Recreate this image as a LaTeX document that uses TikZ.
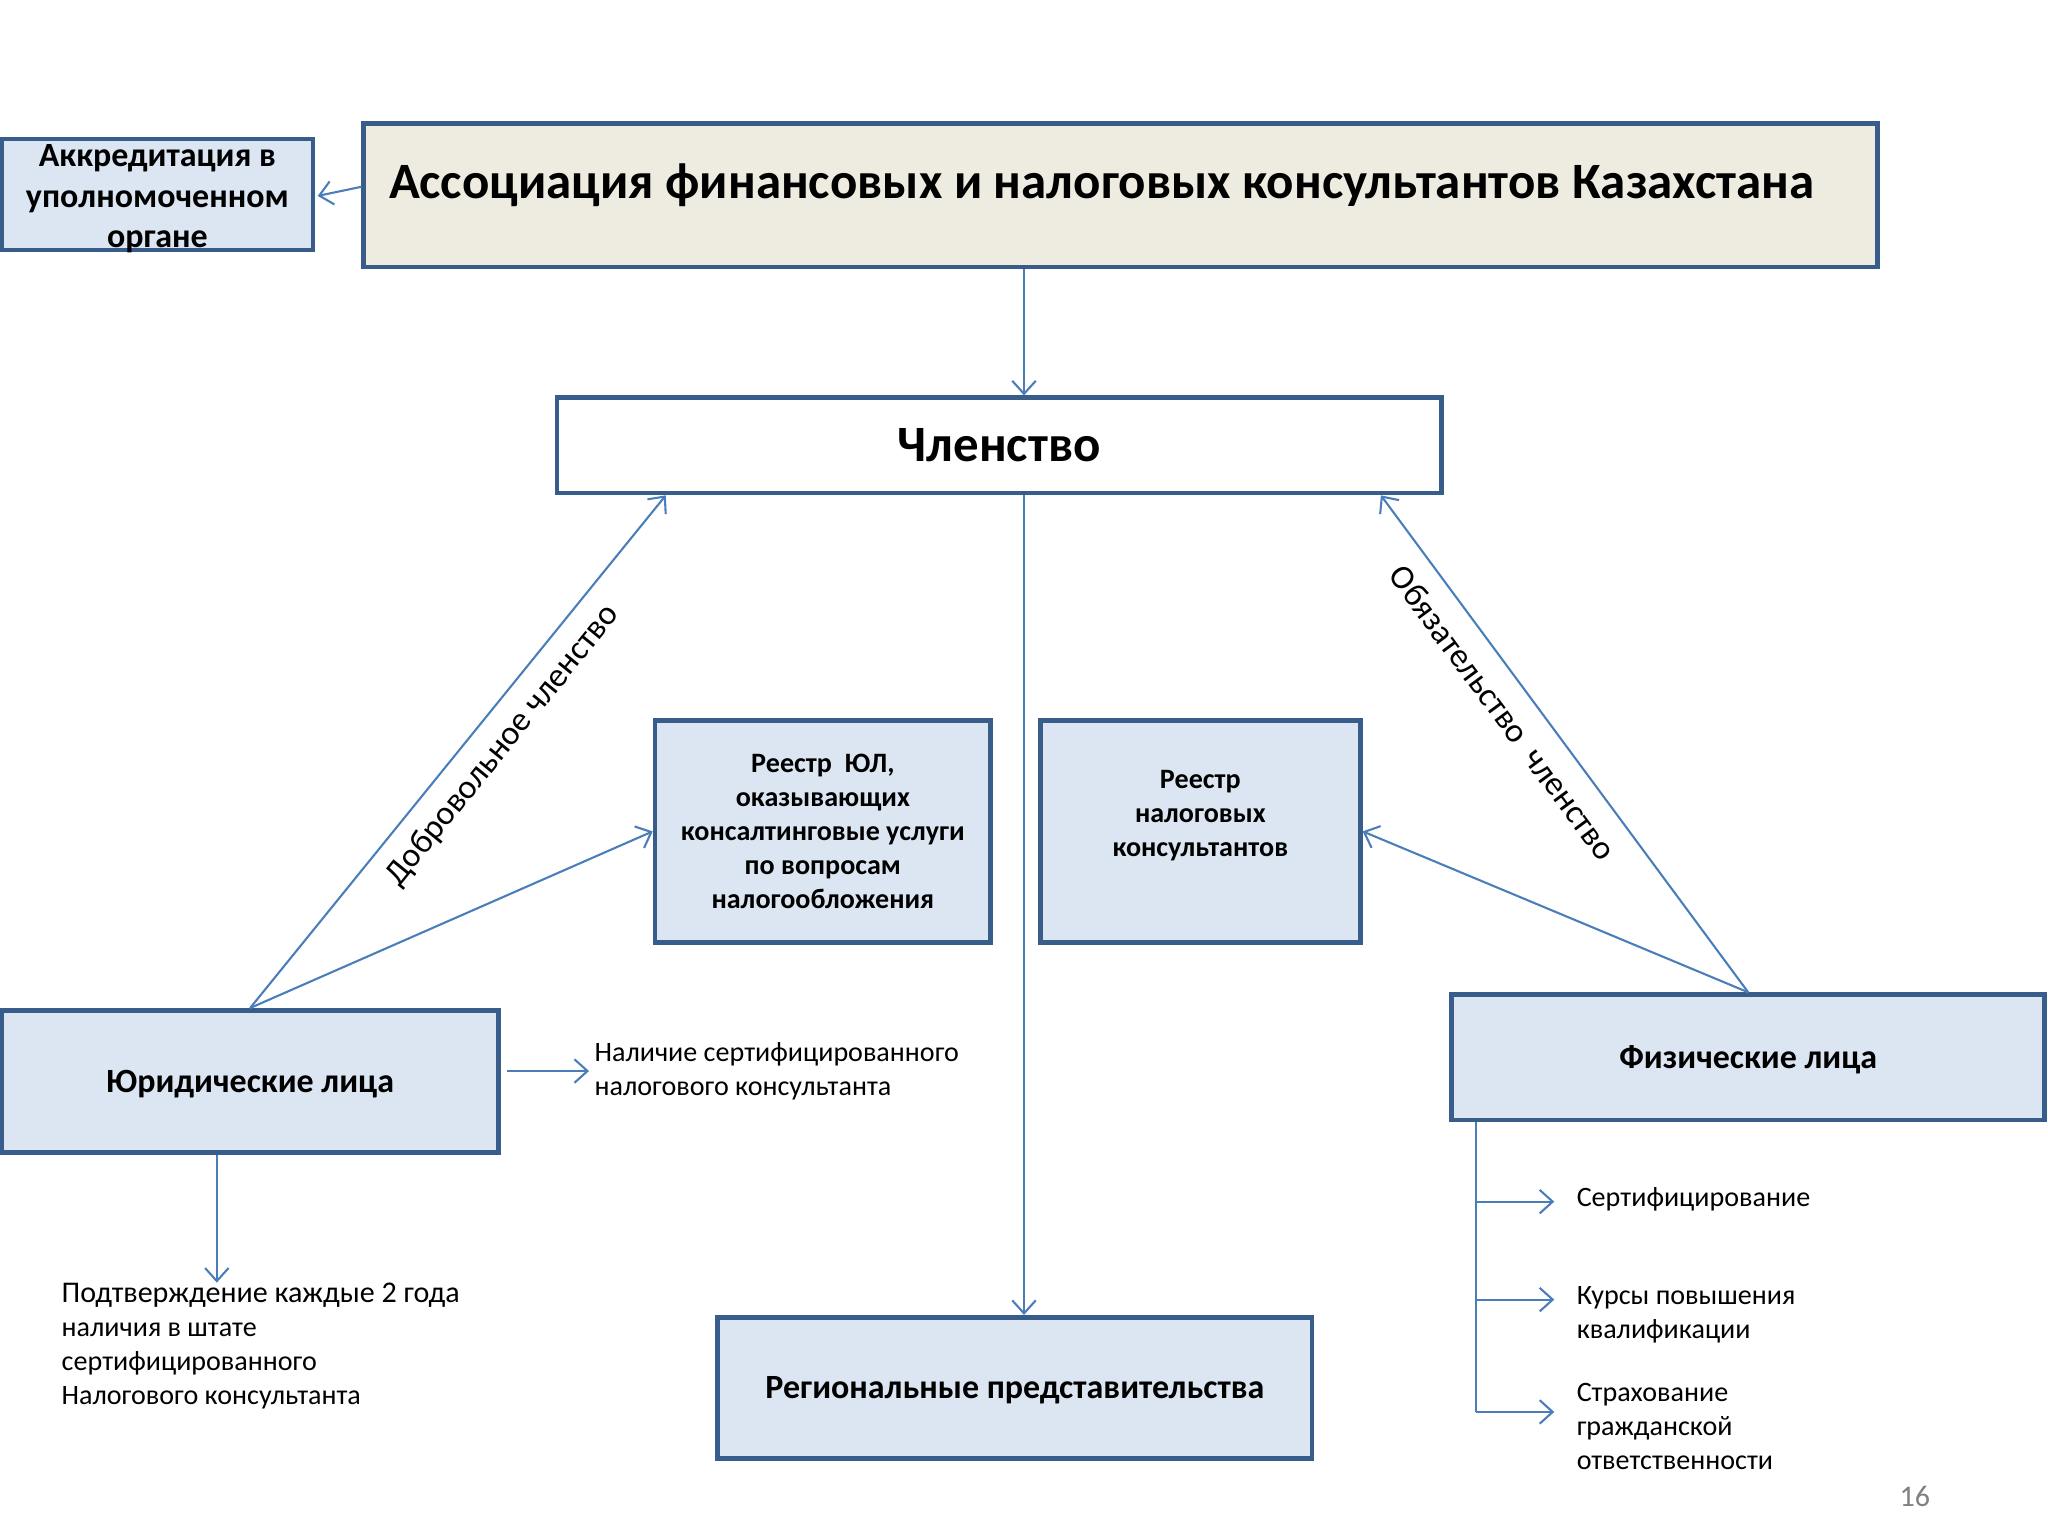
\documentclass[tikz,border=0pt]{standalone}
\usepackage{fontspec}
\setmainfont{Carlito}
\usetikzlibrary{arrows.meta}
\definecolor{boxline}{RGB}{56,93,138}
\definecolor{boxfill}{RGB}{220,230,242}
\definecolor{assocfill}{RGB}{238,236,225}
\definecolor{arrowline}{RGB}{74,126,187}

\begin{document}
\begin{tikzpicture}
  [x=1pt,y=-1pt,
   box/.style={draw=boxline, line width=3.5pt, fill=boxfill, align=center, inner sep=0pt},
   head/.style={font=\bfseries\fontsize{26}{30}\selectfont, text height=22pt, text depth=5pt},
   small/.style={font=\bfseries\fontsize{21.5}{26}\selectfont},
   note/.style={align=left, inner sep=0pt, font=\fontsize{21.5}{26}\selectfont},
   lab/.style={inner sep=0pt, font=\fontsize{26}{30}\selectfont},
   arr/.style={draw=arrowline, line width=1.6pt, -{Straight Barb[length=10pt,width=18pt]}},
   link/.style={draw=arrowline, line width=1.6pt}]
  \useasboundingbox (0,0) rectangle (1568,1176);

  \node[box, fill=assocfill, minimum width=1159pt, minimum height=110pt] (assoc) at (858,149.5) {};
  \node[anchor=base west, inner sep=0pt, font=\bfseries\fontsize{39}{46}\selectfont] (assoctitle) at (298,152) {Ассоциация финансовых и налоговых консультантов Казахстана};
  \node[box, minimum width=238pt, minimum height=85pt, text height=83pt, text depth=1.5pt, font=\bfseries\fontsize{26}{31}\selectfont] (acc) at (120.5,149) {Аккредитация в\\уполномоченном\\органе};
  \node[box, fill=white, minimum width=677pt, minimum height=73pt, font=\bfseries\fontsize{39}{46}\selectfont] (member) at (765,341) {Членство};
  \node[box, small, minimum width=257pt, minimum height=170pt] (regul) at (630,636.5) {Реестр\ \ ЮЛ,\\оказывающих\\консалтинговые услуги\\по вопросам\\налогообложения};
  \node[box, small, minimum width=245pt, minimum height=170pt, text depth=28pt] (regtax) at (919,636.5) {Реестр\\налоговых\\консультантов};
  \node[box, head, minimum width=380pt, minimum height=109pt] (legal) at (191.5,828) {Юридические лица};
  \node[box, head, minimum width=454pt, minimum height=96pt] (phys) at (1338.5,809.5) {Физические лица};
  \node[box, head, minimum width=455pt, minimum height=108pt] (region) at (777,1062.5) {Региональные представительства};

  \node[note, anchor=west] (havecert) at (455,820) {Наличие сертифицированного\\налогового консультанта};
  \node[note, anchor=north west] (confirm) at (47,982) {{\fontsize{23}{26}\selectfont Подтверждение каждые 2 года}\\наличия в штате\\сертифицированного\\Налогового консультанта};
  \node[note, anchor=west] (cert) at (1207,918) {Сертифицирование};
  \node[note, anchor=north west] (courses) at (1207,985) {Курсы повышения\\квалификации};
  \node[note, anchor=north west] (insur) at (1207,1059) {Страхование\\гражданской\\ответственности};
  \node[text=gray, font=\fontsize{23}{26}\selectfont] (page) at (1466,1146) {16};

  \coordinate (axis) at (784,0);
  \coordinate (trunk) at (1130,0);
  \coordinate (confirmtip) at (166,982);
  \coordinate (tcert) at (1190,920);
  \coordinate (tcourses) at (1190,995);
  \coordinate (tinsur) at (1190,1081);

  \draw[arr] (assoc.south -| axis) -- (member.north -| axis);
  \draw[arr] (member.south -| axis) -- (region.north -| axis);
  \draw[arr] ([yshift=6.5pt]assoc.west) -- ([xshift=2pt,yshift=-1pt]acc.east);
  \draw[arr] (legal.north) -- node[pos=.55, sloped, below=12pt, lab] {Добровольное членство} ([xshift=85pt]member.south west);
  \draw[arr] (phys.north) -- node[pos=.6, sloped, below=14pt, lab] {Обязательство\ \ членство} ([xshift=-48pt]member.south east);
  \foreach \from/\to in {legal.north/regul.west, phys.north/regtax.east}
    \draw[arr] (\from) -- (\to);
  \draw[arr] ([xshift=5pt]legal.east |- havecert.west) -- ([xshift=-4pt]havecert.west);
  \draw[arr] (legal.south -| confirmtip) -- (confirmtip);
  \draw[link] (phys.south -| trunk) -- (trunk |- tinsur);
  \foreach \tip in {tcert,tcourses,tinsur}
    \draw[arr] (trunk |- \tip) -- (\tip);
\end{tikzpicture}
\end{document}
